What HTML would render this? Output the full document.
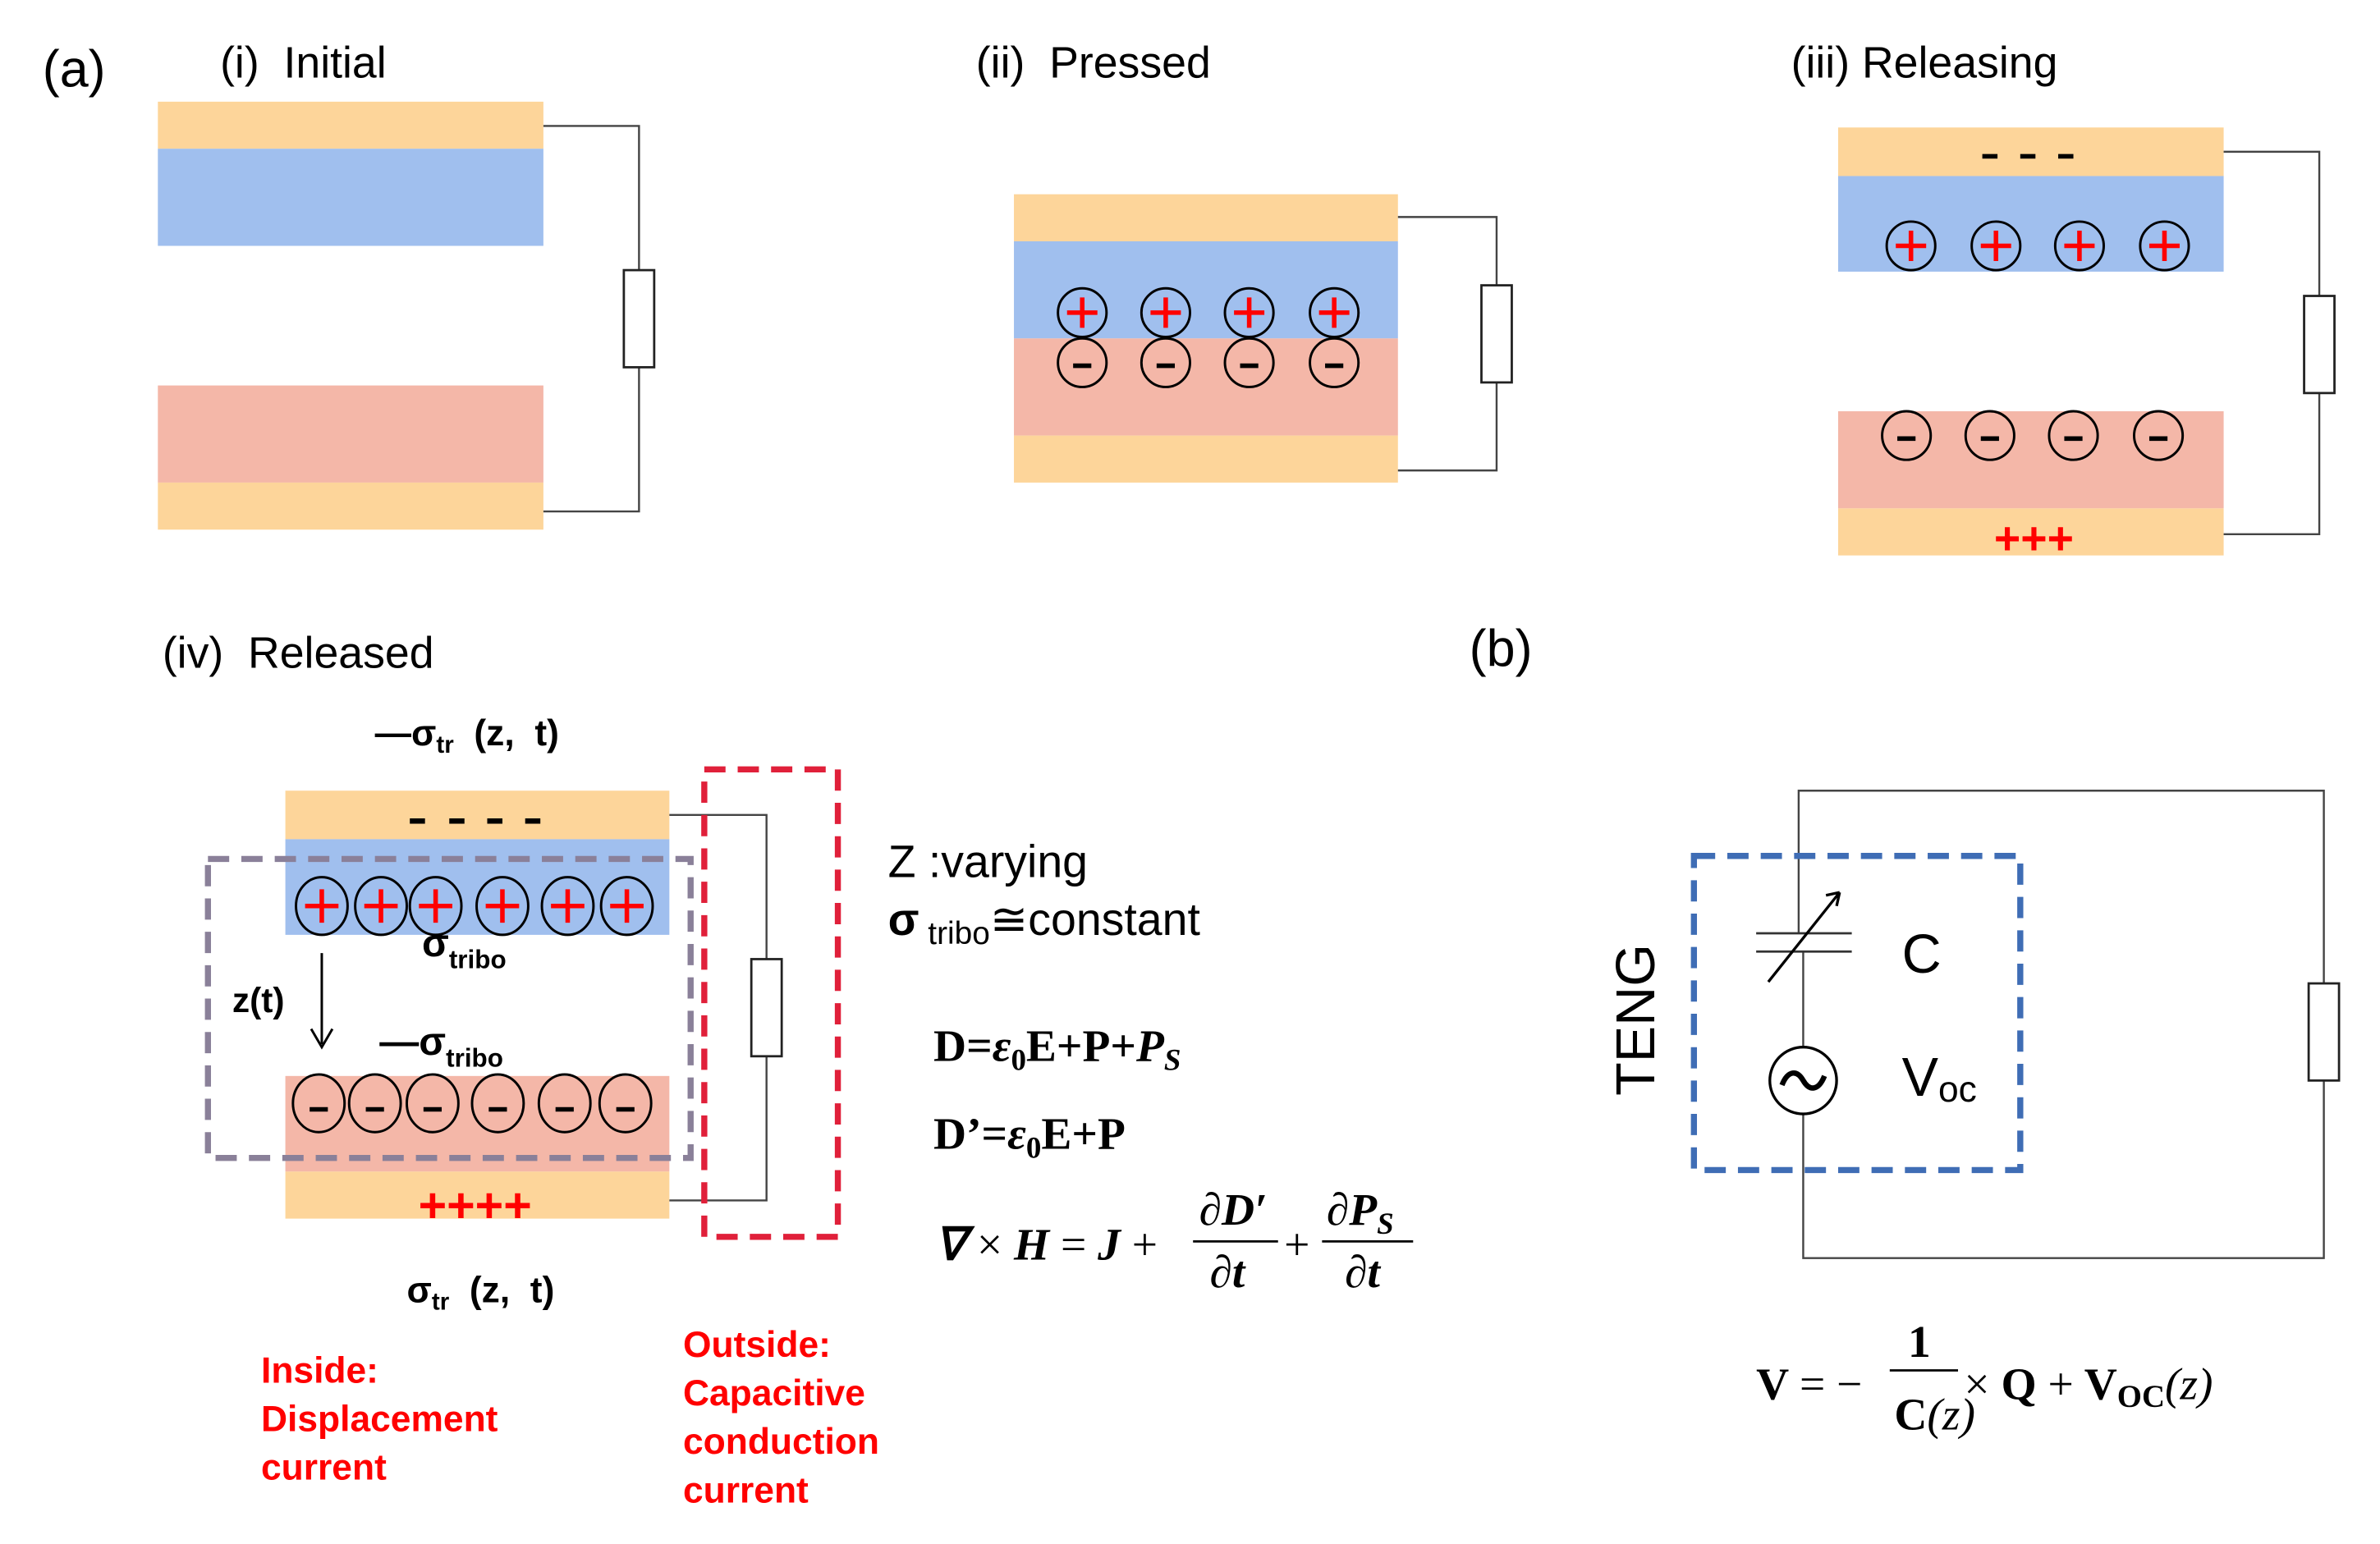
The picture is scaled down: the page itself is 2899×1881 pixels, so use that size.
<!DOCTYPE html>
<html><head><meta charset="utf-8"><style>
html,body{margin:0;padding:0;background:#fff;}
svg{display:block;}
.s{font-family:"Liberation Sans",sans-serif;}
.m{font-family:"Liberation Serif",serif;font-weight:bold;}
</style></head><body>
<svg width="2899" height="1881" viewBox="0 0 1568 1017.4" preserveAspectRatio="none" xmlns="http://www.w3.org/2000/svg">
<defs>
<g id="pc"><circle r="16" fill="none" stroke="#000" stroke-width="1.6"/><path d="M-10 0H10M0 -10V10" stroke="#f00" stroke-width="3"/></g>
<g id="mc"><circle r="16" fill="none" stroke="#000" stroke-width="1.6"/><path d="M-6 2H6" stroke="#000" stroke-width="3"/></g>
<g id="pc2"><ellipse rx="17" ry="19" fill="none" stroke="#000" stroke-width="1.6"/><path d="M-11 0H11M0 -11V11" stroke="#f00" stroke-width="3"/></g>
<g id="mc2"><ellipse rx="17" ry="19" fill="none" stroke="#000" stroke-width="1.6"/><path d="M-6 4H6" stroke="#000" stroke-width="3"/></g>
</defs>
<g class="s" font-size="29" fill="#000">
<text x="28" y="57" font-size="34">(a)</text>
<text x="145" y="51">(i)&#160; Initial</text>
<text x="643" y="51">(ii)&#160; Pressed</text>
<text x="1180" y="51">(iii) Releasing</text>
<text x="107" y="440">(iv)&#160; Released</text>
<text x="968" y="439" font-size="34">(b)</text>
</g>
<!-- panel i -->
<rect x="104" y="67" width="254" height="31" fill="#FDD59A"/>
<rect x="104" y="98" width="254" height="64" fill="#A0BFEE"/>
<rect x="104" y="254" width="254" height="64" fill="#F4B7A8"/>
<rect x="104" y="318" width="254" height="31" fill="#FDD59A"/>
<path d="M358 83H421V337H358" fill="none" stroke="#444" stroke-width="1.3"/>
<rect x="411" y="178" width="20" height="64" fill="#fff" stroke="#222" stroke-width="1.5"/>
<!-- panel ii -->
<rect x="668" y="128" width="253" height="31" fill="#FDD59A"/>
<rect x="668" y="159" width="253" height="64" fill="#A0BFEE"/>
<rect x="668" y="223" width="253" height="64" fill="#F4B7A8"/>
<rect x="668" y="287" width="253" height="31" fill="#FDD59A"/>
<use href="#pc" x="713" y="206"/><use href="#pc" x="768" y="206"/><use href="#pc" x="823" y="206"/><use href="#pc" x="879" y="206"/>
<use href="#mc" x="713" y="239"/><use href="#mc" x="768" y="239"/><use href="#mc" x="823" y="239"/><use href="#mc" x="879" y="239"/>
<path d="M921 143H986V310H921" fill="none" stroke="#444" stroke-width="1.3"/>
<rect x="976" y="188" width="20" height="64" fill="#fff" stroke="#222" stroke-width="1.5"/>
<!-- panel iii -->
<rect x="1211" y="84" width="254" height="32" fill="#FDD59A"/>
<rect x="1211" y="116" width="254" height="63" fill="#A0BFEE"/>
<rect x="1211" y="271" width="254" height="64" fill="#F4B7A8"/>
<rect x="1211" y="335" width="254" height="31" fill="#FDD59A"/>
<path d="M1306 103h10M1331 103h10M1356 103h10" stroke="#000" stroke-width="3"/>
<use href="#pc" x="1259" y="162"/><use href="#pc" x="1315" y="162"/><use href="#pc" x="1370" y="162"/><use href="#pc" x="1426" y="162"/>
<use href="#mc" x="1256" y="287"/><use href="#mc" x="1311" y="287"/><use href="#mc" x="1366" y="287"/><use href="#mc" x="1422" y="287"/>
<text x="1340" y="365" class="s" font-size="30" font-weight="bold" fill="#f00" text-anchor="middle">+++</text>
<path d="M1465 100H1528V352H1465" fill="none" stroke="#444" stroke-width="1.3"/>
<rect x="1518" y="195" width="20" height="64" fill="#fff" stroke="#222" stroke-width="1.5"/>
<!-- panel iv -->
<rect x="188" y="521" width="253" height="32" fill="#FDD59A"/>
<rect x="188" y="553" width="253" height="63" fill="#A0BFEE"/>
<rect x="188" y="709" width="253" height="63" fill="#F4B7A8"/>
<rect x="188" y="772" width="253" height="31" fill="#FDD59A"/>
<path d="M270 541h10M296 541h10M321 541h10M346 541h10" stroke="#000" stroke-width="3.5"/>
<use href="#pc2" x="212" y="597"/><use href="#pc2" x="251" y="597"/><use href="#pc2" x="287" y="597"/><use href="#pc2" x="331" y="597"/><use href="#pc2" x="374" y="597"/><use href="#pc2" x="413" y="597"/>
<use href="#mc2" x="210" y="727"/><use href="#mc2" x="247" y="727"/><use href="#mc2" x="285" y="727"/><use href="#mc2" x="328" y="727"/><use href="#mc2" x="372" y="727"/><use href="#mc2" x="412" y="727"/>
<text x="313" y="805" class="s" font-size="32" font-weight="bold" fill="#f00" text-anchor="middle">++++</text>
<path d="M441 537H505V791H441" fill="none" stroke="#444" stroke-width="1.3"/>
<rect x="495" y="632" width="20" height="64" fill="#fff" stroke="#222" stroke-width="1.5"/>
<rect x="137" y="566" width="318" height="197" fill="none" stroke="#8A8099" stroke-width="4" stroke-dasharray="14 8"/>
<rect x="464" y="507" width="88" height="308" fill="none" stroke="#E0203A" stroke-width="4" stroke-dasharray="14 8"/>
<path d="M212 628V688M205 678L212 690L219 678" fill="none" stroke="#000" stroke-width="1.6"/>
<g class="s" font-weight="bold" font-size="24" fill="#000">
<text x="247" y="491">—σ<tspan font-size="16" dy="5">tr</tspan><tspan dy="-5">&#160; (z,&#160; t)</tspan></text>
<text x="268" y="858">σ<tspan font-size="16" dy="5">tr</tspan><tspan dy="-5">&#160; (z,&#160; t)</tspan></text>
<text x="278" y="630" font-size="26">σ<tspan font-size="17" dy="8">tribo</tspan></text>
<text x="250" y="695" font-size="26">—σ<tspan font-size="17" dy="8">tribo</tspan></text>
<text x="153" y="667" font-size="23">z(t)</text>
</g>
<g class="s" font-weight="bold" font-size="24" fill="#f00">
<text x="172" y="911">Inside:</text><text x="172" y="943">Displacement</text><text x="172" y="975">current</text>
<text x="450" y="894">Outside:</text><text x="450" y="926">Capacitive</text><text x="450" y="958">conduction</text><text x="450" y="990">current</text>
</g>
<g class="s" font-size="30" fill="#000">
<text x="585" y="578">Z :varying</text>
<text x="585" y="616"><tspan font-weight="bold">σ</tspan><tspan font-size="21" dy="6"> tribo</tspan><tspan dy="-6">≅constant</tspan></text>
</g>
<g class="m" font-size="30" fill="#000">
<text x="615" y="699">D=<tspan font-style="italic">ε</tspan><tspan font-size="20" dy="6">0</tspan><tspan dy="-6">E+P+</tspan><tspan font-style="italic">P</tspan><tspan font-size="20" dy="6" font-style="italic">S</tspan></text>
<text x="615" y="757">D’=<tspan font-style="italic">ε</tspan><tspan font-size="20" dy="6">0</tspan><tspan dy="-6">E+P</tspan></text>
<text x="616" y="830" font-style="italic">∇ <tspan font-weight="normal" font-style="normal">×</tspan> H <tspan font-weight="normal" font-style="normal">=</tspan> J <tspan font-weight="normal" font-style="normal">+</tspan></text>
<text x="790" y="807" font-style="italic">∂D′</text>
<text x="797" y="848" font-style="italic">∂t</text>
<text x="846" y="830" font-weight="normal">+</text>
<text x="874" y="807" font-style="italic">∂P<tspan font-size="20" dy="6">S</tspan></text>
<text x="886" y="848" font-style="italic">∂t</text>
</g>
<path d="M786 818H842M871 818H931" stroke="#000" stroke-width="1.5"/>
<!-- (b) -->
<path d="M1185 615V521H1531V829H1188V734M1188 627V690" fill="none" stroke="#444" stroke-width="1.3"/>
<path d="M1157 615H1220M1157 627H1220" stroke="#333" stroke-width="1.5"/>
<path d="M1165 647L1212 588M1212 588l-9 2M1212 588l-2 9" fill="none" stroke="#000" stroke-width="1.8"/>
<circle cx="1188" cy="712" r="22" fill="#fff" stroke="#000" stroke-width="1.8"/>
<path d="M1174 715c4-10 10-10 14-3s10 7 14-3" fill="none" stroke="#000" stroke-width="3.5"/>
<rect x="1521" y="648" width="20" height="64" fill="#fff" stroke="#222" stroke-width="1.5"/>
<rect x="1116" y="564" width="215" height="207" fill="none" stroke="#3F6DB5" stroke-width="4" stroke-dasharray="14 8"/>
<g class="s" font-size="36" fill="#000">
<text x="1253" y="641">C</text>
<text x="1253" y="722">V<tspan font-size="24" dy="4">oc</tspan></text>
<text transform="translate(1090 722) rotate(-90)" font-size="36">TENG</text>
</g>
<g class="m" font-size="30" fill="#000">
<text x="1157" y="922">V <tspan font-weight="normal">= −</tspan></text>
<text x="1257" y="894">1</text>
<text x="1248" y="942">C<tspan font-weight="normal" font-style="italic">(z)</tspan></text>
<text x="1294" y="922"><tspan font-weight="normal">×</tspan> Q <tspan font-weight="normal">+</tspan> V<tspan font-size="21" dy="5">OC</tspan><tspan dy="-5" font-weight="normal" font-style="italic">(z)</tspan></text>
</g>
<path d="M1245 903H1290" stroke="#000" stroke-width="1.5"/>
</svg>
</body></html>
